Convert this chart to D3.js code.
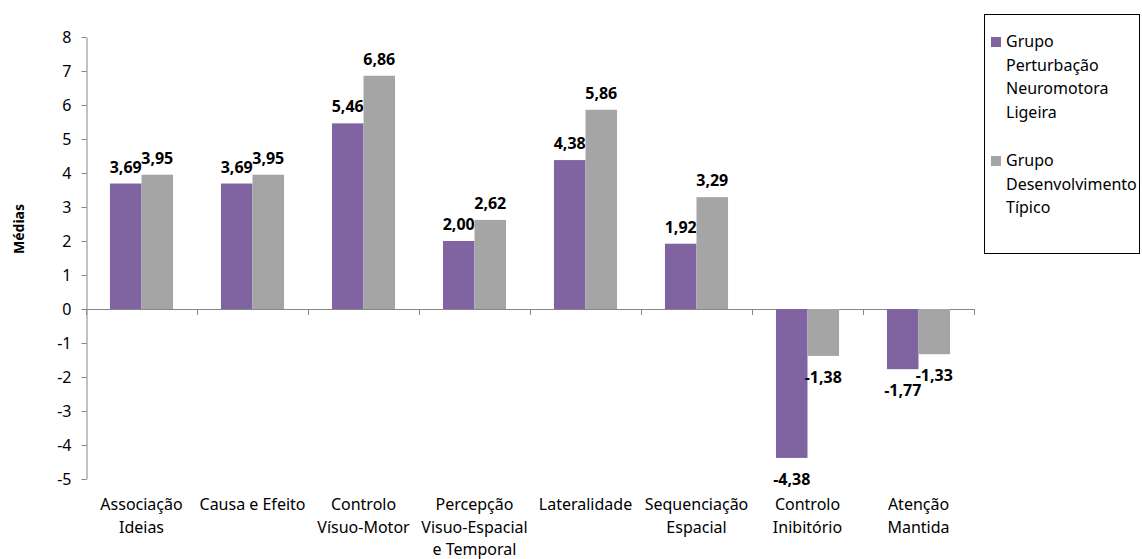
<!DOCTYPE html>
<html>
<head>
<meta charset="utf-8">
<script src="https://cdn.jsdelivr.net/npm/d3@7"></script>
<style>
body { margin: 0; background: #fff; }
text { font-family: "Noto Sans", sans-serif; }
</style>
</head>
<body>
<div id="chart"></div>
<script>
// categories (multi-line labels)
var categories = [
	["Associação", "Ideias"],
	["Causa e Efeito"],
	["Controlo", "Vísuo-Motor"],
	["Percepção", "Visuo-Espacial", "e Temporal"],
	["Lateralidade"],
	["Sequenciação", "Espacial"],
	["Controlo", "Inibitório"],
	["Atenção", "Mantida"]
];
var seriesNames = ["Grupo Perturbação Neuromotora Ligeira", "Grupo Desenvolvimento Típico"];
var legendLines = [
	["Grupo", "Perturbação", "Neuromotora", "Ligeira"],
	["Grupo", "Desenvolvimento", "Típico"]
];
var neuromotora = [3.69, 3.69, 5.46, 2.00, 4.38, 1.92, -4.38, -1.77];
var tipico = [3.95, 3.95, 6.86, 2.62, 5.86, 3.29, -1.38, -1.33];
var yTicks = [-5, -4, -3, -2, -1, 0, 1, 2, 3, 4, 5, 6, 7, 8];
var colors = ["#8064A2", "#A5A5A5"];

var width = 1142, height = 559;
var svg = d3.select("#chart").append("svg")
	.attr("width", width)
	.attr("height", height);

var plotLeft = 86, plotRight = 974, plotTop = 37, plotBottom = 479;

var y = d3.scaleLinear().domain([-5, 8]).range([plotBottom, plotTop]);
var catIdx = categories.map(function(d, i) { return i; });
var x0 = d3.scaleBand().domain(catIdx).range([plotLeft, plotRight]).padding(0);
var x1 = d3.scaleBand().domain([0, 1]).range([0, x0.bandwidth()])
	.paddingInner(0).paddingOuter(0.76);

var fmt = function(v) { return d3.format(".2f")(v).replace(".", ",").replace("−", "-"); };

// y axis
var yAxis = svg.append("g")
	.attr("transform", "translate(" + (plotLeft + 0.5) + ",0)")
	.call(d3.axisLeft(y).tickValues(yTicks).tickSize(5).tickSizeOuter(0));
yAxis.select(".domain").attr("stroke", "#868686");
yAxis.selectAll(".tick line").attr("stroke", "#868686");
yAxis.selectAll(".tick text")
	.attr("x", -15)
	.style("font-size", "16px")
	.style("font-family", "Noto Sans")
	.attr("fill", "#000")
	.text(function(d) { return d < 0 ? "-" + Math.abs(d) : d; });

// zero line + category ticks
svg.append("line")
	.attr("x1", plotLeft).attr("x2", plotRight)
	.attr("y1", Math.round(y(0)) + 0.5).attr("y2", Math.round(y(0)) + 0.5)
	.attr("stroke", "#868686");
svg.selectAll(".cat-tick")
	.data(d3.range(categories.length + 1))
	.enter().append("line")
	.attr("x1", function(d) { return Math.round(plotLeft + d * x0.step()) + 0.5; })
	.attr("x2", function(d) { return Math.round(plotLeft + d * x0.step()) + 0.5; })
	.attr("y1", Math.round(y(0))).attr("y2", Math.round(y(0)) + 6)
	.attr("stroke", "#868686");

// bars
var series = [neuromotora, tipico];
series.forEach(function(vals, s) {
	svg.selectAll(".bar" + s)
		.data(vals)
		.enter().append("rect")
		.attr("x", function(d, i) { return x0(i) + x1(s); })
		.attr("width", x1.bandwidth())
		.attr("y", function(d) { return y(Math.max(0, d)); })
		.attr("height", function(d) { return Math.abs(y(d) - y(0)); })
		.attr("fill", colors[s]);

	svg.selectAll(".lab" + s)
		.data(vals)
		.enter().append("text")
		.attr("x", function(d, i) { return x0(i) + x1(s) + x1.bandwidth() / 2; })
		.attr("y", function(d) { return d >= 0 ? y(d) - 11 : y(d) + 27; })
		.attr("text-anchor", "middle")
		.style("font-size", "16px")
		.style("font-weight", "bold")
		.text(fmt);
});

// category labels
var catG = svg.selectAll(".cat")
	.data(categories)
	.enter().append("text")
	.attr("text-anchor", "middle")
	.attr("transform", function(d, i) { return "translate(" + (x0(i) + x0.bandwidth() / 2) + ",510)"; })
	.style("font-size", "16px");
catG.selectAll("tspan")
	.data(function(d) { return d; })
	.enter().append("tspan")
	.attr("x", 0)
	.attr("dy", function(d, i) { return i === 0 ? 0 : 22.5; })
	.text(function(d) { return d; });

// y title
svg.append("text")
	.attr("transform", "translate(24,229) rotate(-90)")
	.attr("text-anchor", "middle")
	.style("font-size", "14px")
	.style("font-weight", "bold")
	.text("Médias");

// legend
var lg = svg.append("g");
lg.append("rect")
	.attr("x", 984.5).attr("y", 14.5)
	.attr("width", 155).attr("height", 239)
	.attr("fill", "#fff").attr("stroke", "#000");
var legendY = [47, 166];
legendLines.forEach(function(lines, s) {
	lg.append("rect")
		.attr("x", 991).attr("y", legendY[s] - 10)
		.attr("width", 10).attr("height", 10)
		.attr("fill", colors[s]);
	var t = lg.append("text")
		.attr("transform", "translate(1006," + legendY[s] + ")")
		.style("font-size", "16px");
	t.selectAll("tspan").data(lines).enter().append("tspan")
		.attr("x", 0)
		.attr("dy", function(d, i) { return i === 0 ? 0 : 23.5; })
		.text(function(d) { return d; });
});
</script>
</body>
</html>
